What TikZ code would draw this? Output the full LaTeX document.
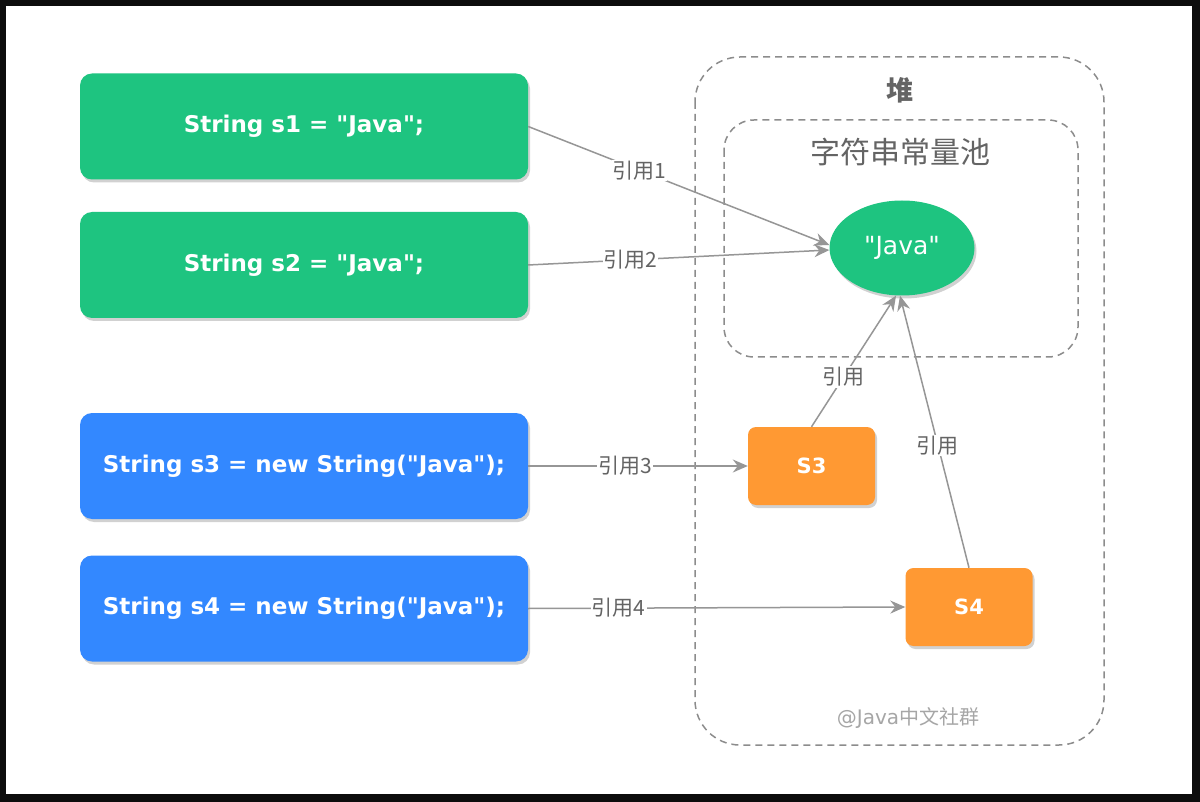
\documentclass[tikz,border=0pt]{standalone}
\usepackage{fontspec}
\setmainfont{DejaVu Sans}
\newfontfamily\cjk{Noto Sans CJK SC}
\usetikzlibrary{arrows.meta,shapes.geometric,shadows}

\definecolor{codegreen}{RGB}{30,196,128}
\definecolor{codeblue}{RGB}{51,136,255}
\definecolor{objorange}{RGB}{255,153,51}
\definecolor{refgray}{RGB}{150,150,150}
\definecolor{labelgray}{RGB}{100,100,100}
\definecolor{areagray}{RGB}{140,140,140}

\newcommand{\qt}{\textquotedbl}

\tikzset{
  boxshadow/.style={drop shadow={shadow xshift=2pt,shadow yshift=-3pt,fill=black,opacity=0.18}},
  codebox/.style={fill=#1,rounded corners=12pt,minimum width=448pt,minimum height=106pt,
    text=white,font=\bfseries\fontsize{23}{27}\selectfont,boxshadow},
  objbox/.style={fill=objorange,rounded corners=8pt,minimum width=127pt,minimum height=78pt,
    text=white,font=\bfseries\fontsize{21}{24}\selectfont,boxshadow},
  refline/.style={draw=refgray,line width=1.5pt,-{Stealth[length=15pt,width=13pt,inset=5pt]}},
  reflabel/.style={fill=white,inner sep=1pt,text=labelgray,font=\cjk\fontsize{21}{24}\selectfont},
  areabox/.style={draw=areagray,line width=1.5pt,dash pattern=on 7pt off 5pt},
}

\begin{document}
\begin{tikzpicture}[x=1pt,y=-1pt]

\useasboundingbox (0,0) rectangle (1200,802);
\fill [black!95] (0,0) rectangle (1200,802);
\fill [white] (6,6) rectangle (1192,794);

% heap and pool
\draw [areabox,rounded corners=45pt] (695,57) rectangle (1104,745);
\draw [areabox,rounded corners=30pt] (724,120) rectangle (1078,357);
\node (heap) [text=labelgray,font=\cjk\bfseries\fontsize{27}{30}\selectfont] at (900,90) {堆};
\node (pool) [text=labelgray,font=\cjk\fontsize{30}{34}\selectfont] at (900,152) {字符串常量池};
\node (mark) [text=black!35,font=\fontsize{20}{24}\selectfont] at (908,718) {@Java{\cjk 中文社群}};

% code
\node (s1) [codebox=codegreen] at (304,126.5) {String s1 = \qt Java\qt;};
\node (s2) [codebox=codegreen] at (304,265) {String s2 = \qt Java\qt;};
\node (s3) [codebox=codeblue] at (304,466) {String s3 = new String(\qt Java\qt);};
\node (s4) [codebox=codeblue] at (304,608.5) {String s4 = new String(\qt Java\qt);};

% objects
\node (java) [ellipse,fill=codegreen,minimum width=145pt,minimum height=95pt,text=white,
  font=\fontsize{25}{28}\selectfont,boxshadow] at (902,248) {\qt Java\qt};
\node (obj3) [objbox] at (811.5,466) {S3};
\node (obj4) [objbox] at (969,607) {S4};

% references
\draw [refline] (s1.east) -- ([yshift=3pt]java.west) node [reflabel,pos=0.37] {引用1};
\draw [refline] (s2.east) -- ([yshift=-2pt]java.west) node [reflabel,pos=0.34] {引用2};
\draw [refline] (s3.east) -- (obj3.west) node [reflabel,pos=0.44] {引用3};
\draw [refline] (s4.east) -- (obj4.west) node [reflabel,pos=0.24] {引用4};
\draw [refline] (obj3.north) -- ([xshift=-6pt]java.south) node [reflabel,pos=0.38] {引用};
\draw [refline] (obj4.north) -- ([xshift=-2pt]java.south) node [reflabel,pos=0.45] {引用};

\end{tikzpicture}
\end{document}
